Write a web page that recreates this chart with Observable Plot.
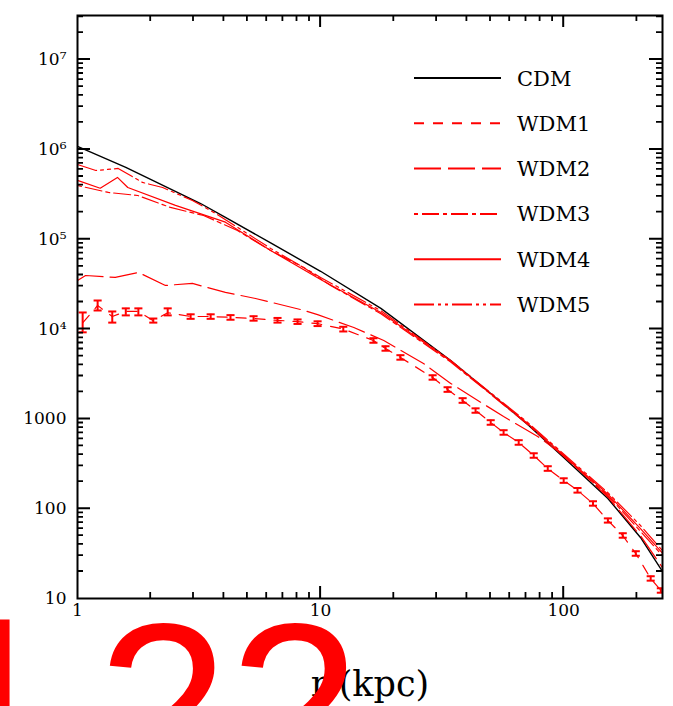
<!DOCTYPE html>
<html><head><meta charset="utf-8">
<script src="https://cdn.jsdelivr.net/npm/d3@7"></script>
<script src="https://cdn.jsdelivr.net/npm/@observablehq/plot@0.6"></script>
<style>
html,body{margin:0;padding:0;background:#fff;overflow:hidden}
#wrap{position:relative;width:673px;height:706px;background:#fff}
.ov{position:absolute;left:0;top:0}
</style></head><body>
<div id="wrap"></div>
<script>
// ---- data (r in kpc, density) ----
const seriesNames = ["CDM", "WDM1", "WDM2", "WDM3", "WDM4", "WDM5"];
const seriesColors = ["#000000", "#ff0000", "#ff0000", "#ff0000", "#ff0000", "#ff0000"];
const seriesDash = [null, "10,9", "27,7", "4,4,17,4", null, "20,4,3,4,3,4"];

const cdm = [[1,1.08e6],[1.58,6.3e5],[3.21,2.5e5],[4.06,1.75e5],[6.23,9.1e4],[10,4.4e4],[17.7,1.7e4],[34.3,4470],[50.1,1920],[71.1,867],[100,372],[152,130],[207,47.8],[246,23.3],[255,20]];
// WDM1: [r, rho, lo, hi]
const wdm1 = [[1.05,1.17e4,9.2e3,1.53e4],[1.21,1.83e4,1.61e4,2.08e4],[1.39,1.38e4,1.18e4,1.57e4],[1.58,1.57e4,1.42e4,1.70e4],[1.78,1.57e4,1.42e4,1.70e4],[2.05,1.24e4,1.18e4,1.31e4],[2.35,1.52e4,1.42e4,1.70e4],
  [2.92,1.38e4,1.30e4,1.46e4],[3.53,1.38e4,1.30e4,1.46e4],[4.26,1.35e4,1.27e4,1.43e4],[5.30,1.31e4,1.24e4,1.39e4],[6.65,1.25e4,1.18e4,1.33e4],[8.04,1.21e4,1.14e4,1.28e4],[9.72,1.15e4,1.08e4,1.22e4],
  [12.4,1.0e4,9.4e3,1.06e4],[16.5,7460,7040,7910],[18.5,6080,5740,6440],[21.3,4830,4560,5120],[28.9,2890,2730,3060],[33.3,2120,2000,2250],[38.4,1600,1510,1700],[43.4,1240,1170,1310],
  [50.1,912,860,967],[56.6,706,666,748],[65.3,546,515,579],[75.3,391,369,414],[86.0,280,264,297],[100,206,194,218],[114,160,151,170],[132,114,108,121],[152,74,70,78],[175,50.3,47.5,53.3],[198,31.7,29.9,33.6],[228,16.7,15.8,17.7],[251,12.3,11.6,13.0]];
const wdm2 = [[1,3.47e4],[1.08,3.95e4],[1.43,3.76e4],[1.78,4.27e4],[2.30,3.06e4],[2.97,3.22e4],[4.06,2.56e4],[5.40,2.19e4],[8.27,1.65e4],[9.72,1.45e4],[13.7,1.04e4],[18.2,7460],[26.5,4140],[34.3,2480],[56.6,1060],[78.2,637],[100,391],[152,135],[207,50],[255,22]];
const wdm3 = [[1,3.97e5],[1.34,3.32e5],[1.77,3.07e5],[2.41,2.26e5],[3.30,1.84e5],[4.55,1.25e5],[6.23,7.5e4],[8.51,4.85e4],[11,3.06e4],[17.7,1.48e4],[34.3,4300],[50.1,1880],[71.1,867],[152,140],[207,56],[255,30]];
const wdm4 = [[1,4.52e5],[1.24,3.7e5],[1.46,4.88e5],[1.61,3.77e5],[2.53,2.38e5],[4.06,1.55e5],[6.23,7.5e4],[10,3.57e4],[17.7,1.53e4],[34.3,4400],[50.1,1900],[71.1,890],[152,145],[207,60],[255,32]];
const wdm5 = [[1,6.8e5],[1.19,5.83e5],[1.47,6.14e5],[1.85,4.29e5],[2.24,3.77e5],[2.97,2.7e5],[3.7,1.94e5],[6.23,7.9e4],[10,3.76e4],[17.7,1.6e4],[34.3,4470],[50.1,1950],[71.1,912],[152,151],[207,65],[255,34]];

const xMajor = [1, 10, 100];
const xLabels = ["1", "10", "100"];
const yMajor = [10, 100, 1000, 1e4, 1e5, 1e6, 1e7];
const yLabels = ["10", "100", "1000", "10\u2074", "10\u2075", "10\u2076", "10\u2077"];
const xMinor = [2, 3, 4, 5, 6, 7, 8, 9, 20, 30, 40, 50, 60, 70, 80, 90, 200];
const yMinor = [];
for (const d of [10, 100, 1e3, 1e4, 1e5, 1e6, 1e7]) for (let k = 2; k <= 9; k++) if (k * d < 3.1e7) yMinor.push(k * d);

const xDom = [1, 255], yDom = [10, 3.1e7];
const W = 673, H = 706, mL = 77, mR = 11, mT = 15, mB = 108;
const capF = 1.039;
const red = "#ff0000";
const lineSets = [cdm, wdm1, wdm2, wdm3, wdm4, wdm5];

const chart = Plot.plot({
  width: W, height: H,
  marginLeft: mL, marginRight: mR, marginTop: mT, marginBottom: mB,
  style: {fontFamily: "DejaVu Serif", background: "white", color: "black"},
  x: {type: "log", domain: xDom, label: null},
  y: {type: "log", domain: yDom, label: null},
  marks: [
    ...lineSets.map((s, i) => Plot.line(s, {x: d => d[0], y: d => d[1], stroke: seriesColors[i], strokeWidth: i === 0 ? 1.4 : 1.2, strokeDasharray: seriesDash[i], clip: true})),
    Plot.ruleX(wdm1, {x: d => d[0], y1: d => d[2], y2: d => d[3], stroke: red, strokeWidth: 2, clip: true}),
    Plot.link(wdm1, {x1: d => d[0] / capF, x2: d => d[0] * capF, y1: d => d[2], y2: d => d[2], stroke: red, strokeWidth: 2, clip: true}),
    Plot.link(wdm1, {x1: d => d[0] / capF, x2: d => d[0] * capF, y1: d => d[3], y2: d => d[3], stroke: red, strokeWidth: 2, clip: true}),
    Plot.frame({stroke: "black", strokeWidth: 2}),
    Plot.axisY({anchor: "left", ticks: yMajor, tickSize: 0, tickPadding: 11, tickFormat: (d) => yLabels[yMajor.indexOf(d)], fontSize: 17, label: null}),
    Plot.axisX({anchor: "bottom", ticks: xMajor, tickSize: 0, tickPadding: 5, tickFormat: d => xLabels[xMajor.indexOf(d)], fontSize: 17, label: null}),
    Plot.text(["r (kpc)"], {frameAnchor: "bottom", dy: 97, fontSize: 35, fill: "black"})
  ]
});
const wrap = document.getElementById("wrap");
wrap.appendChild(chart);

// overlay: inward ticks on all four sides as one path, legend, red label
const sx = d3.scaleLog().domain(xDom).range([mL, W - mR]);
const sy = d3.scaleLog().domain(yDom).range([H - mB, mT]);
const X0 = sx(xDom[0]), X1 = sx(xDom[1]), Y0 = sy(yDom[0]), Y1 = sy(yDom[1]);
const ov = d3.create("svg").attr("class", "ov").attr("width", W).attr("height", H);
function tickPath(list, len, horizontal) {
  let d = "";
  for (const v of list) {
    if (horizontal) {
      const p = sy(v).toFixed(1);
      d += `M${X0},${p}h${len}M${X1},${p}h${-len}`;
    } else {
      const p = sx(v).toFixed(1);
      d += `M${p},${Y0}v${-len}M${p},${Y1}v${len}`;
    }
  }
  return d;
}
ov.append("path").attr("d", tickPath(xMajor.slice(1), 12, false) + tickPath(yMajor.slice(1), 13, true))
  .attr("fill", "none").attr("stroke", "#000").attr("stroke-width", 2);
ov.append("path").attr("d", tickPath(xMinor, 6, false) + tickPath(yMinor, 6, true))
  .attr("fill", "none").attr("stroke", "#000").attr("stroke-width", 1.8);
seriesNames.forEach((n, i) => {
  const y = 78 + i * 45.3;
  ov.append("line").attr("x1", 414).attr("x2", 501).attr("y1", y).attr("y2", y)
    .attr("stroke", seriesColors[i]).attr("stroke-width", 2).attr("stroke-dasharray", seriesDash[i]);
  ov.append("text").attr("x", 517).attr("y", y).attr("dy", "0.36em").attr("font-family", "DejaVu Serif")
    .attr("font-size", 21).attr("fill", "#000").text(n);
});
ov.append("text").attr("x", -71).attr("y", 783).attr("font-family", "Liberation Sans").attr("font-size", 237).attr("fill", "#ff0000").text("1");
ov.append("text").attr("x", 97).attr("y", 789).attr("font-family", "Liberation Sans").attr("font-size", 237).attr("fill", "#ff0000").text("22");
wrap.appendChild(ov.node());
</script>
</body></html>
